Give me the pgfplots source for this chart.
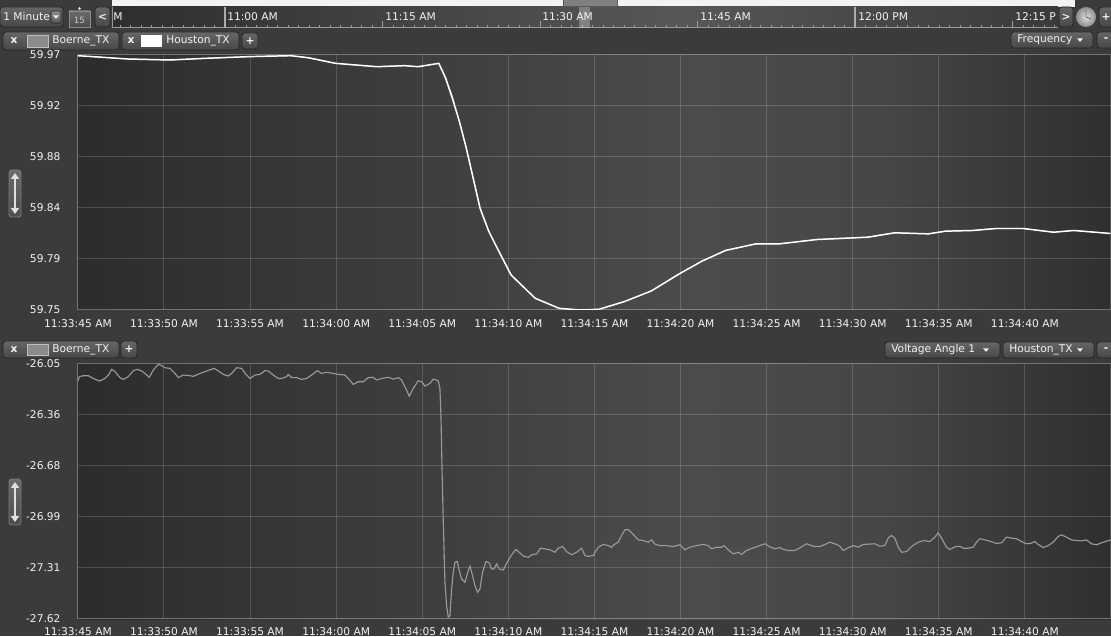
\documentclass[border=0pt]{standalone}
\usepackage{fontspec}
\setmainfont{DejaVu Sans}
\usepackage{pgfplots}
\pgfplotsset{compat=1.18}
\usepackage{pgfplotstable}
\usetikzlibrary{arrows.meta}

% ---------- colours of the dark theme ----------
\definecolor{uibg}{HTML}{3B3B3B}
\definecolor{pdark}{HTML}{2C2C2C}
\definecolor{pmid}{HTML}{4C4C4C}
\definecolor{pmid2}{HTML}{464646}
\definecolor{pright}{HTML}{2F2F2F}
\definecolor{bdark}{HTML}{2E2E2E}
\definecolor{bmid}{HTML}{575757}
\definecolor{bright}{HTML}{3A3A3A}
\definecolor{btntop}{HTML}{666666}
\definecolor{btnbot}{HTML}{474747}
\definecolor{btnedge}{HTML}{252525}
\definecolor{swgray}{HTML}{8C8C8C}
\definecolor{boerne}{HTML}{9A9A9A}
\definecolor{txt}{HTML}{F2F2F2}

\pgfdeclarehorizontalshading{plotbg}{100bp}{color(0bp)=(pdark); color(25bp)=(pdark); color(55bp)=(pmid); color(64bp)=(pmid2); color(75bp)=(pright); color(100bp)=(pright)}
\pgfdeclarehorizontalshading{barbg}{100bp}{color(0bp)=(bdark); color(25bp)=(bdark); color(55bp)=(bmid); color(75bp)=(bright); color(100bp)=(bright)}

\newcommand\ui{\fontsize{8}{9.6}\selectfont}
\newcommand\uismall{\fontsize{6.5}{7.5}\selectfont}

% seconds after 11:33:45 AM, frequency in Hz
\pgfplotstableread{
t f
0 59.9694
1.76 59.9677
2.96 59.9665
5.36 59.9657
7.36 59.9671
9.96 59.9686
12.36 59.9694
13.36 59.9677
14.96 59.9628
17.36 59.9599
18.96 59.9608
19.76 59.9599
20.96 59.9628
21.36 59.9499
21.76 59.9320
22.16 59.9125
22.56 59.8895
23.36 59.8377
23.86 59.8180
24.36 59.8032
25.16 59.7802
26.56 59.7601
27.96 59.7514
29.18 59.7500
30.26 59.7506
31.73 59.7572
33.30 59.7664
34.87 59.7807
36.25 59.7922
37.62 59.8014
39.39 59.8071
40.76 59.8071
42.92 59.8108
45.87 59.8128
47.44 59.8166
49.40 59.8157
50.38 59.8180
51.96 59.8186
53.33 59.8203
54.90 59.8203
56.67 59.8171
57.85 59.8186
59.97 59.8160
}\freqHouston

\pgfplotstableread{
t f
0 59.9694
1.76 59.9677
2.96 59.9665
5.36 59.9657
7.36 59.9671
9.96 59.9686
12.36 59.9694
13.36 59.9677
14.96 59.9628
17.36 59.9599
18.96 59.9608
19.76 59.9599
20.96 59.9628
21.20 59.9560
21.50 59.9440
21.70 59.9370
22.16 59.9125
22.56 59.8895
23.36 59.8377
23.86 59.8180
24.36 59.8032
25.16 59.7802
26.56 59.7601
27.96 59.7514
29.18 59.7500
30.26 59.7506
31.73 59.7572
33.30 59.7664
34.87 59.7807
36.25 59.7922
37.62 59.8014
39.39 59.8071
40.76 59.8071
42.92 59.8108
45.87 59.8128
47.44 59.8166
49.40 59.8157
50.38 59.8180
51.96 59.8186
53.33 59.8203
54.90 59.8203
56.67 59.8171
57.85 59.8186
59.97 59.8160
}\freqBoerne

% seconds after 11:33:45 AM, voltage angle in degrees
\pgfplotstableread{
t a
0.00 -26.155
0.083 -26.128
0.315 -26.122
0.606 -26.122
0.896 -26.139
1.245 -26.155
1.574 -26.139
1.767 -26.118
1.961 -26.083
2.154 -26.097
2.445 -26.134
2.638 -26.145
2.929 -26.128
3.219 -26.091
3.451 -26.083
3.703 -26.093
3.897 -26.108
4.148 -26.132
4.380 -26.087
4.671 -26.052
4.864 -26.060
5.058 -26.073
5.348 -26.077
5.638 -26.108
5.832 -26.134
6.123 -26.118
6.510 -26.122
6.703 -26.126
7.090 -26.108
7.477 -26.093
7.923 -26.077
8.155 -26.093
8.445 -26.114
8.736 -26.124
8.929 -26.108
9.220 -26.073
9.510 -26.077
9.762 -26.114
9.994 -26.139
10.284 -26.118
10.575 -26.114
10.865 -26.091
11.058 -26.093
11.349 -26.118
11.639 -26.139
11.833 -26.139
12.123 -26.128
12.220 -26.114
12.414 -26.134
12.704 -26.134
12.994 -26.145
13.285 -26.139
13.575 -26.118
13.904 -26.091
14.156 -26.108
14.446 -26.101
14.833 -26.108
15.124 -26.114
15.511 -26.118
15.704 -26.139
15.995 -26.176
16.285 -26.159
16.575 -26.159
16.866 -26.134
17.156 -26.132
17.350 -26.149
17.640 -26.139
18.027 -26.132
18.317 -26.143
18.608 -26.134
18.801 -26.149
18.995 -26.190
19.246 -26.248
19.479 -26.200
19.769 -26.153
19.963 -26.159
20.156 -26.186
20.447 -26.169
20.640 -26.143
20.834 -26.149
20.930 -26.155
21.027 -26.200
21.086 -26.365
21.144 -26.674
21.221 -27.023
21.318 -27.394
21.415 -27.538
21.511 -27.610
21.608 -27.600
21.705 -27.435
21.802 -27.332
21.898 -27.270
22.034 -27.266
22.150 -27.322
22.286 -27.373
22.479 -27.394
22.673 -27.322
22.770 -27.295
22.924 -27.353
23.060 -27.414
23.215 -27.456
23.350 -27.435
23.505 -27.332
23.699 -27.266
23.892 -27.275
24.028 -27.312
24.163 -27.312
24.318 -27.281
24.473 -27.312
24.705 -27.318
24.938 -27.270
25.189 -27.225
25.441 -27.192
25.673 -27.213
25.867 -27.233
26.157 -27.240
26.351 -27.225
26.641 -27.219
26.873 -27.184
27.125 -27.188
27.415 -27.194
27.706 -27.209
27.899 -27.184
28.151 -27.174
28.383 -27.205
28.673 -27.225
28.964 -27.209
29.254 -27.184
29.448 -27.229
29.641 -27.235
29.932 -27.229
30.222 -27.178
30.512 -27.161
30.803 -27.168
30.996 -27.178
31.132 -27.163
31.383 -27.147
31.577 -27.106
31.770 -27.071
31.964 -27.069
32.216 -27.095
32.545 -27.133
32.835 -27.137
33.125 -27.147
33.319 -27.133
33.513 -27.159
33.803 -27.168
34.190 -27.168
34.577 -27.174
34.964 -27.163
35.255 -27.194
35.545 -27.178
35.932 -27.168
36.319 -27.161
36.610 -27.168
36.803 -27.188
37.094 -27.178
37.384 -27.178
37.520 -27.168
37.771 -27.194
38.062 -27.219
38.352 -27.209
38.545 -27.223
38.836 -27.198
39.223 -27.182
39.610 -27.168
39.900 -27.157
40.191 -27.176
40.481 -27.188
40.771 -27.180
40.965 -27.192
41.255 -27.198
41.642 -27.198
41.933 -27.182
42.320 -27.157
42.707 -27.172
43.094 -27.174
43.481 -27.157
43.675 -27.147
44.062 -27.161
44.256 -27.172
44.449 -27.198
44.740 -27.182
45.030 -27.168
45.320 -27.178
45.611 -27.161
46.288 -27.157
46.579 -27.172
46.869 -27.168
47.063 -27.122
47.256 -27.106
47.450 -27.122
47.643 -27.178
47.837 -27.209
48.127 -27.205
48.417 -27.174
48.708 -27.153
49.095 -27.137
49.482 -27.143
49.772 -27.116
49.966 -27.089
50.160 -27.122
50.450 -27.178
50.643 -27.192
50.934 -27.176
51.224 -27.172
51.418 -27.184
51.708 -27.184
51.998 -27.178
52.192 -27.147
52.386 -27.126
52.676 -27.133
52.966 -27.141
53.353 -27.155
53.644 -27.151
53.934 -27.116
54.225 -27.122
54.515 -27.126
54.805 -27.143
55.096 -27.157
55.386 -27.153
55.580 -27.143
55.773 -27.161
56.063 -27.180
56.354 -27.168
56.644 -27.147
56.935 -27.112
57.128 -27.102
57.418 -27.116
57.709 -27.133
57.999 -27.137
58.290 -27.139
58.580 -27.133
58.870 -27.157
59.161 -27.163
59.451 -27.151
59.741 -27.141
59.993 -27.133
}\angleBoerne

\pgfplotsset{
  uiaxis/.style={
    scale only axis, width=774.8pt, xmin=0, xmax=60,
    axis line style={draw=white, draw opacity=0.18, line width=0.75pt},
    grid=major,
    major grid style={draw=white, draw opacity=0.16, line width=0.75pt},
    major tick length=0pt, tick style={draw=none},
    xtick={0,5,...,55},
    xticklabels={11:33:45 AM,11:33:50 AM,11:33:55 AM,11:34:00 AM,11:34:05 AM,11:34:10 AM,11:34:15 AM,11:34:20 AM,11:34:25 AM,11:34:30 AM,11:34:35 AM,11:34:40 AM},
    tick label style={font=\ui, text=txt},
    /pgf/number format/assume math mode=true,
    yticklabel style={xshift=-9.5pt},
  },
}
\tikzset{lbl/.style={font=\ui, text=txt, inner sep=0pt}}

% rounded toolbar button: x1, y1 (from top), x2, y2
\newcommand{\uibtn}[4]{\shade[rounded corners=2.2pt, top color=btntop, bottom color=btnbot, draw=btnedge, line width=0.6pt] (#1,636-#2) rectangle (#3,636-#4);}
% small drop-down triangle centred at x, y (from top)
\newcommand{\droptri}[2]{\fill[txt] (#1-3,636-#2+1.7) -- (#1+3,636-#2+1.7) -- (#1,636-#2-1.8) -- cycle;}

\begin{document}
\begin{tikzpicture}[x=0.75pt,y=0.75pt]
\path[use as bounding box] (0,0) rectangle (1111,636);
\clip (0,0) rectangle (1111,636);
\fill[uibg] (0,0) rectangle (1111,636);

% ---------- time navigator ----------
\fill[white!95!black] (112,636) rectangle (1075,629);
\shade[shading=barbg] (112,636-7) rectangle (1058,636-28);
\draw[white!60!black, line width=0.75pt] (112,636-7) -- (112,636-28) -- (1058,636-28);
\foreach \i in {-10,...,79} {
  \draw[white!62!black, line width=0.75pt] ({225+\i*10.5},636-25) -- ({225+\i*10.5},636-27);
}
\foreach \xx in {382.5,540,697.5,1012.5} {
  \draw[white!62!black, line width=0.75pt] (\xx,636-21) -- (\xx,636-27);
}
\foreach \xx in {225,855} {
  \draw[white!68!black, line width=0.9pt] (\xx,636-7) -- (\xx,636-28);
}
\node[lbl, anchor=west] at (113,636-17) {M};
\node[lbl, anchor=west] at (227,636-17) {11:00 AM};
\node[lbl, anchor=west] at (385,636-17) {11:15 AM};
\node[lbl, anchor=west] at (542,636-17) {11:30 AM};
\node[lbl, anchor=west] at (700,636-17) {11:45 AM};
\node[lbl, anchor=west] at (858,636-17) {12:00 PM};
\node[lbl, anchor=west] at (1015,636-17) {12:15 P};
\fill[white, opacity=0.28] (579,636-7) rectangle (590,636-28);
\fill[white!50!black] (563,636) rectangle (617,636-6);
\draw[white!35!black, line width=0.6pt] (563,636) -- (563,636-6) -- (617,636-6) -- (617,636);

% left controls
\uibtn{0}{7}{63}{27}
\node[lbl, anchor=west] at (3,636-17) {1 Minute};
\shade[rounded corners=1pt, top color=white!55!black, bottom color=white!35!black, draw=btnedge] (51,636-11) rectangle (61,636-23);
\droptri{56}{17}
\shade[top color=white!42!black, bottom color=white!30!black, draw=white!55!black, line width=0.6pt] (69,636-11) rectangle (90,636-27);
\fill[txt] (79.5,636-8.5) circle (1.3);
\node[lbl, font=\uismall, text=white!80!black] at (79.5,636-20) {15};
\uibtn{95}{7}{110}{27}
\node[lbl, font=\bfseries\ui] at (102.5,636-17) {<};

% right controls
\uibtn{1059}{7}{1073}{27}
\node[lbl, font=\bfseries\ui] at (1066,636-17) {>};
\shade[inner color=white!88!black, outer color=white!55!black] (1086,636-17) circle (10);
\draw[white!40!black, line width=0.7pt] (1086,636-17) -- (1086,636-10) (1086,636-17) -- (1091,636-19);
\uibtn{1099}{7}{1115}{27}
\node[lbl, font=\bfseries\ui] at (1106,636-17) {+};

% ---------- legend bar of the frequency chart ----------
\uibtn{3}{32}{119}{50}
\node[lbl, font=\bfseries\ui] at (14,636-41) {x};
\fill[swgray] (27,636-35) rectangle (48,636-47);
\draw[white!75!black, line width=0.5pt] (27,636-35) rectangle (48,636-47);
\node[lbl, anchor=west] at (52,636-41) {Boerne\_TX};
\uibtn{122}{32}{239}{50}
\node[lbl, font=\bfseries\ui] at (131,636-41) {x};
\fill[white] (141,636-35) rectangle (162,636-47);
\node[lbl, anchor=west] at (166,636-41) {Houston\_TX};
\uibtn{242}{33}{258}{49}
\node[lbl, font=\bfseries\ui] at (250,636-41) {+};
\uibtn{1011}{32}{1093}{48}
\node[lbl, anchor=west] at (1017,636-40) {Frequency};
\droptri{1080}{40}
\uibtn{1097}{32}{1116}{48}
\node[lbl, font=\bfseries\ui] at (1106,636-40) {-};

% ---------- legend bar of the voltage angle chart ----------
\uibtn{3}{341}{119}{358}
\node[lbl, font=\bfseries\ui] at (14,636-349.5) {x};
\fill[swgray] (27,636-344) rectangle (48,636-355);
\draw[white!75!black, line width=0.5pt] (27,636-344) rectangle (48,636-355);
\node[lbl, anchor=west] at (52,636-349.5) {Boerne\_TX};
\uibtn{121}{341}{137}{358}
\node[lbl, font=\bfseries\ui] at (129,636-349.5) {+};
\uibtn{885}{342}{1000}{358}
\node[lbl, anchor=west] at (891,636-350) {Voltage Angle 1};
\droptri{986}{350}
\uibtn{1003}{342}{1094}{358}
\node[lbl, anchor=west] at (1009,636-350) {Houston\_TX};
\droptri{1080}{350}
\uibtn{1097}{342}{1116}{358}
\node[lbl, font=\bfseries\ui] at (1106,636-350) {-};

% ---------- plot backgrounds ----------
\shade[shading=plotbg] (77.9,636-310) rectangle (1111,636-55);
\shade[shading=plotbg] (77.9,636-619) rectangle (1111,636-364);

% vertical zoom handles
\foreach \ya/\yb in {170/217, 479/525} {
  \shade[rounded corners=2pt, top color=white!42!black, bottom color=white!30!black, draw=white!48!black, line width=0.6pt] (9,636-\ya) rectangle (21,636-\yb);
  \draw[white!88!black, line width=1.8pt, {Triangle[width=6pt,length=4.5pt]}-{Triangle[width=6pt,length=4.5pt]}] (15,636-\ya-3) -- (15,636-\yb+3);
}

% ---------- frequency ----------
\begin{axis}[uiaxis, at={(58.425pt,244.5pt)}, anchor=south west, height=191.25pt,
  ymin=59.75, ymax=59.97,
  ytick={59.75,59.794,59.838,59.882,59.926,59.97},
  yticklabels={59.75,59.79,59.84,59.88,59.92,59.97},
  xticklabel style={yshift=-3.5pt}]
\addplot[boerne, line width=0.8pt] table[x=t, y=f] {\freqBoerne};
\addplot[white, line width=1.1pt] table[x=t, y=f] {\freqHouston};
\end{axis}

% ---------- voltage angle ----------
\begin{axis}[uiaxis, at={(58.425pt,12.75pt)}, anchor=south west, height=191.25pt,
  ymin=-27.62, ymax=-26.05,
  ytick={-27.62,-27.306,-26.992,-26.678,-26.364,-26.05},
  yticklabels={-27.62,-27.31,-26.99,-26.68,-26.36,-26.05},
  xticklabel style={yshift=-2.6pt}]
\addplot[boerne, line width=0.85pt] table[x=t, y=a] {\angleBoerne};
\end{axis}
\end{tikzpicture}
\end{document}
